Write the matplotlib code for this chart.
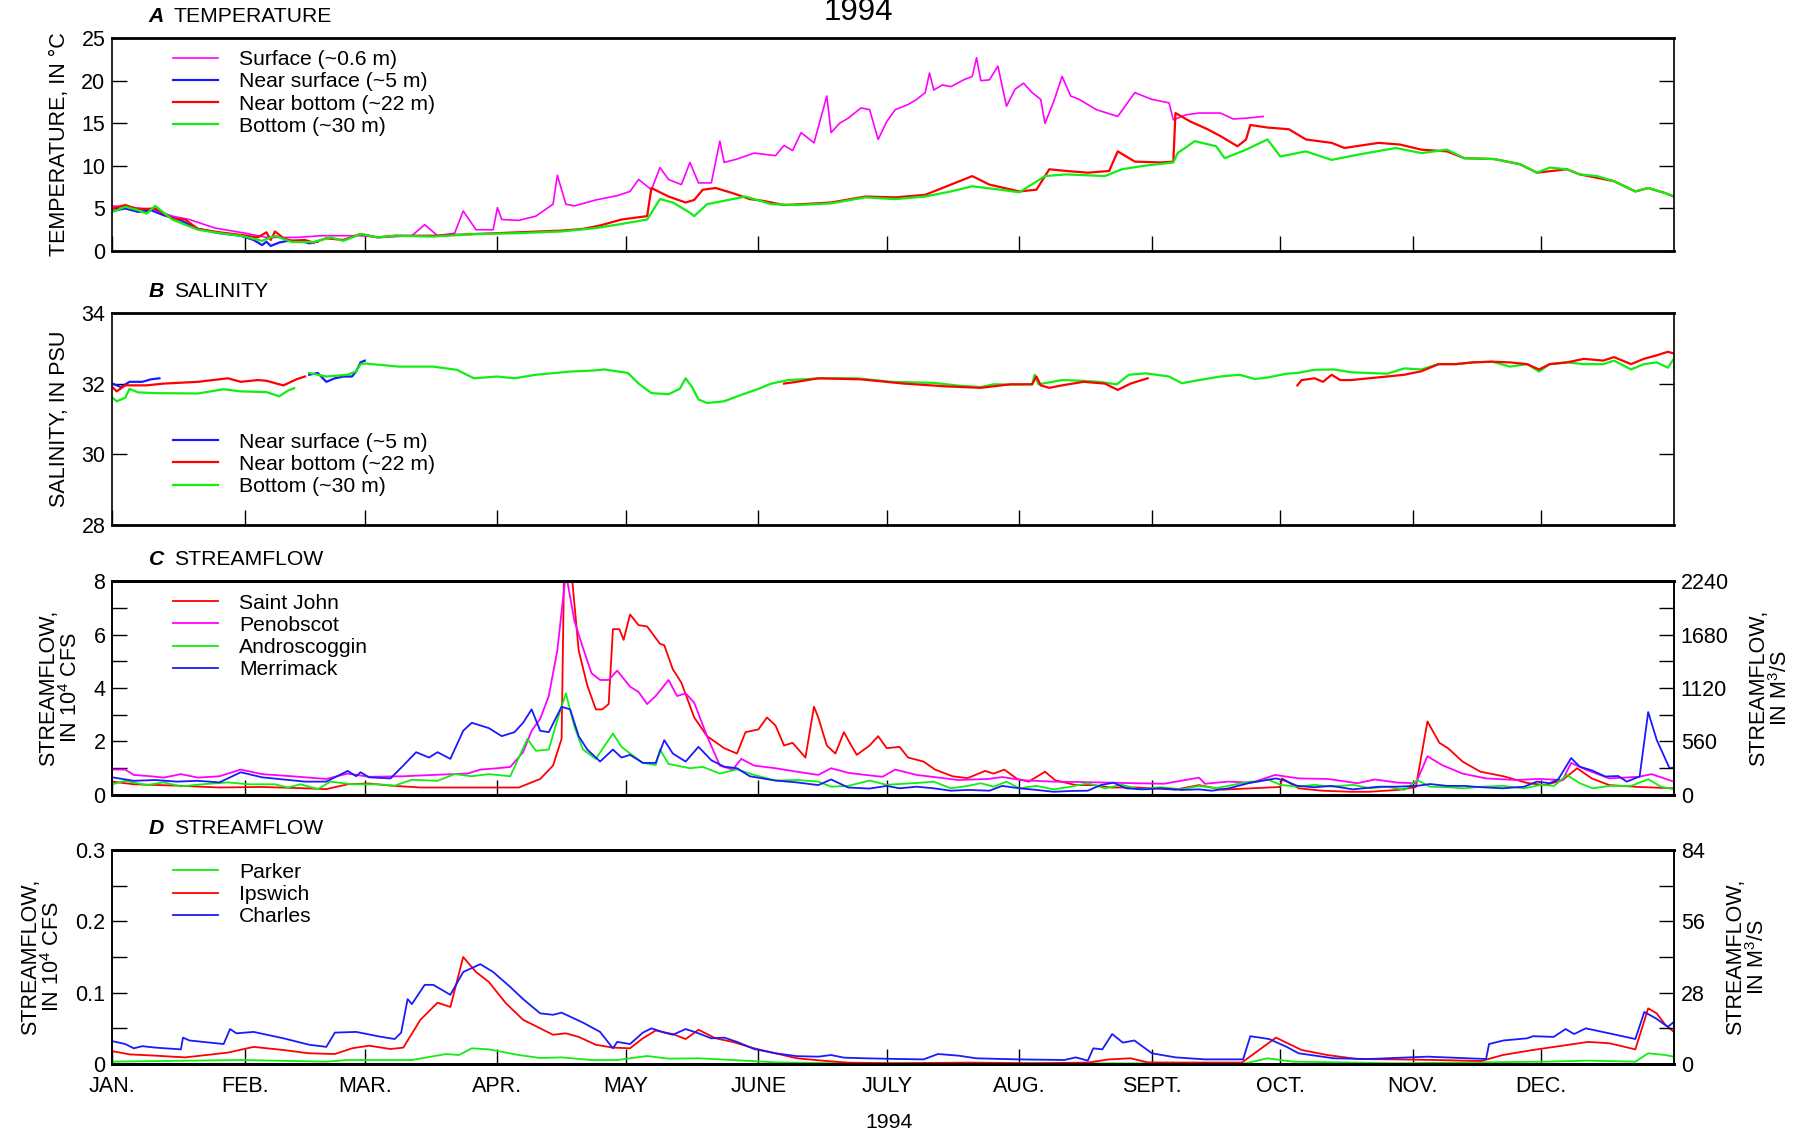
import numpy as np
import matplotlib
matplotlib.use('Agg')
import matplotlib.pyplot as plt
from matplotlib.ticker import MultipleLocator, FixedLocator, FuncFormatter

plt.rcParams['font.family'] = ['Liberation Sans', 'DejaVu Sans']
plt.rcParams['mathtext.fontset'] = 'custom'
plt.rcParams['mathtext.rm'] = 'Liberation Sans'
plt.rcParams['mathtext.it'] = 'Liberation Sans:italic'
plt.rcParams['mathtext.bf'] = 'Liberation Sans:bold'

NAN = np.nan
###############################################################################
# Data (day of year 1994, value)
###############################################################################
MONTH_START = [0, 31, 59, 90, 120, 151, 181, 212, 243, 273, 304, 334]
MONTH_LABELS = ['JAN.', 'FEB.', 'MAR.', 'APR.', 'MAY', 'JUNE', 'JULY',
                'AUG.', 'SEPT.', 'OCT.', 'NOV.', 'DEC.']

# A  temperature, deg C ------------------------------------------------------
temp_surface = [
    (0, 5.3), (5, 5.1), (9.5, 4.9), (14, 4.1), (18, 3.7), (24, 2.7), (31, 2.1),
    (36, 1.6), (43, 1.6), (49, 1.8), (58, 1.8), (63, 1.6), (70, 1.8), (73, 3.1),
    (76, 1.8), (80, 2.1), (82, 4.7), (85, 2.5), (89, 2.5), (90, 5.1), (91, 3.7),
    (95, 3.6), (99, 4.1), (103, 5.5), (104, 8.9), (106, 5.5), (108, 5.3),
    (113, 6.0), (118, 6.5), (121, 7.0), (123, 8.4), (126, 7.2), (128, 9.8),
    (130, 8.4), (133, 7.8), (135, 10.4), (137, 8.0), (140, 8.0), (142, 12.9),
    (143, 10.4), (146, 10.8), (150, 11.5), (155, 11.2), (157, 12.4), (159, 11.8),
    (161, 13.9), (164, 12.7), (167, 18.2), (168, 13.9), (170, 15.0), (172, 15.6),
    (175, 16.8), (177, 16.6), (179, 13.1), (181, 15.2), (183, 16.6), (186, 17.2),
    (188, 17.8), (190, 18.6), (191, 20.9), (192, 18.9), (194, 19.5), (196, 19.3),
    (199, 20.1), (201, 20.5), (202, 22.7), (203, 20.0), (205, 20.1), (207, 21.7),
    (209, 17.0), (211, 19.0), (213, 19.7), (215, 18.6), (217, 17.8), (218, 15.0),
    (220, 17.5), (222, 20.5), (224, 18.2), (226, 17.8), (230, 16.6), (235, 15.8),
    (239, 18.6), (243, 17.8), (247, 17.4), (248, 15.4), (251, 16.0), (254, 16.2),
    (259, 16.2), (262, 15.5), (265, 15.6), (269, 15.8)]
temp_near_surface = [
    (0, 4.7), (3, 5.0), (6, 4.6), (9, 4.8), (12, 4.2), (16, 3.6), (20, 2.6),
    (25, 2.1), (30, 1.8), (33, 1.3), (35, 0.7), (36, 1.1), (37, 0.6), (39, 1.0),
    (41, 1.2), (44, 1.2), (46, 0.9), (48, 1.1)]
temp_near_bottom = [
    (0, 5.0), (3, 5.4), (6, 4.9), (10, 5.0), (14, 3.8), (17, 3.7), (20, 2.6),
    (25, 2.2), (30, 1.9), (34, 1.6), (36, 2.2), (37, 1.3), (38, 2.3), (40, 1.5),
    (42, 1.2), (45, 1.3), (47, 1.0), (50, 1.5), (54, 1.3), (58, 2.0), (62, 1.6),
    (66, 1.8), (75, 1.8), (85, 2.0), (95, 2.2), (105, 2.4), (110, 2.6), (114, 3.0),
    (119, 3.7), (125, 4.1), (126, 7.4), (130, 6.4), (134, 5.7), (136, 6.0),
    (138, 7.2), (141, 7.4), (145, 6.8), (149, 6.1), (152, 5.9), (157, 5.4),
    (161, 5.5), (168, 5.7), (176, 6.4), (183, 6.3), (190, 6.6), (196, 7.8),
    (201, 8.8), (205, 7.8), (212, 7.0), (216, 7.2), (219, 9.6), (223, 9.4),
    (228, 9.2), (233, 9.4), (235, 11.7), (239, 10.5), (245, 10.4), (248, 10.5),
    (248.5, 16.2), (252, 15.2), (256, 14.3), (259, 13.5), (263, 12.3), (265, 13.1),
    (266, 14.8), (270, 14.5), (275, 14.3), (279, 13.1), (285, 12.7), (288, 12.1),
    (296, 12.7), (301, 12.5), (306, 11.9), (312, 11.7), (316, 10.9), (323, 10.8),
    (329, 10.2), (333, 9.2), (340, 9.6), (343, 9.0), (351, 8.2), (356, 7.0),
    (359, 7.4), (363, 6.8), (365, 6.4)]
temp_bottom = [
    (0, 4.6), (3, 5.2), (6, 4.8), (8, 4.4), (10, 5.3), (14, 3.7), (20, 2.5),
    (25, 2.1), (30, 1.8), (35, 1.2), (38, 1.8), (42, 1.05), (47, 1.05), (51, 1.6),
    (54, 1.2), (58, 2.0), (62, 1.6), (66, 1.8), (75, 1.7), (85, 2.0), (95, 2.1),
    (105, 2.3), (113, 2.7), (118, 3.1), (125, 3.7), (128, 6.1), (131, 5.7),
    (135, 4.5), (136, 4.1), (139, 5.5), (143, 5.9), (148, 6.4), (150, 6.1),
    (154, 5.5), (160, 5.4), (168, 5.6), (176, 6.3), (183, 6.1), (190, 6.4),
    (196, 7.0), (201, 7.6), (206, 7.3), (212, 6.9), (218, 8.8), (223, 9.0),
    (232, 8.8), (236, 9.6), (241, 10.0), (248, 10.4), (249, 11.5), (253, 12.9),
    (258, 12.3), (260, 10.9), (265, 11.9), (270, 13.1), (273, 11.1), (279, 11.7),
    (285, 10.7), (291, 11.3), (300, 12.1), (306, 11.5), (312, 11.9), (316, 10.9),
    (323, 10.8), (329, 10.2), (333, 9.2), (336, 9.8), (340, 9.6), (343, 9.0),
    (347, 8.8), (351, 8.2), (356, 7.0), (359, 7.4), (363, 6.8), (365, 6.4)]

# B  salinity, PSU -----------------------------------------------------------
sal_near_surface = [
    (0, 32.0), (2, 31.9), (4, 32.05), (7, 32.05), (9, 32.12), (11, 32.15),
    (12, NAN),
    (46, 32.25), (48, 32.3), (50, 32.05), (52, 32.15), (54, 32.2), (56, 32.2),
    (57, 32.35), (58, 32.6), (59, 32.65)]
sal_near_bottom = [
    (0, 31.9), (1, 31.78), (3, 31.95), (8, 31.95), (12, 32.0), (20, 32.05),
    (27, 32.15), (30, 32.05), (34, 32.1), (36, 32.08), (39, 31.98), (40, 31.95),
    (43, 32.12), (45, 32.2), (46, NAN),
    (157, 32.0), (160, 32.05), (165, 32.15), (175, 32.12), (185, 32.0),
    (195, 31.92), (203, 31.88), (210, 31.98), (215, 31.98), (216, 32.2),
    (217, 31.95), (219, 31.88), (222, 31.95), (227, 32.05), (232, 32.0),
    (235, 31.82), (238, 32.0), (242, 32.15), (243, NAN),
    (277, 31.95), (278, 32.1), (281, 32.15), (283, 32.05), (285, 32.25),
    (287, 32.1), (289.6, 32.1), (293.7, 32.15), (298, 32.2), (302, 32.25),
    (306, 32.35), (310, 32.55), (314, 32.55), (318, 32.6), (322.5, 32.62),
    (326.7, 32.6), (330.7, 32.55), (333.5, 32.4), (336, 32.55), (340, 32.6),
    (344, 32.7), (348.5, 32.65), (351, 32.75), (355, 32.55), (358, 32.7),
    (361, 32.8), (363.6, 32.9), (365, 32.85)]
sal_bottom = [
    (0, 31.6), (1, 31.5), (3, 31.6), (4, 31.85), (6, 31.75), (10, 31.73),
    (20, 31.72), (26, 31.84), (30, 31.78), (36, 31.76), (39, 31.64), (41, 31.8),
    (42.5, 31.87), (44, NAN),
    (46, 32.3), (50, 32.2), (55, 32.25), (57, 32.35), (58, 32.55), (59, 32.57),
    (67, 32.48), (75, 32.48), (80.5, 32.39), (84.5, 32.15), (90, 32.2),
    (94, 32.15), (99, 32.25), (107, 32.34), (112.5, 32.37), (115, 32.4),
    (120.5, 32.3), (123, 32.0), (126, 31.73), (130, 31.7), (132.6, 31.85),
    (134, 32.15), (135.5, 31.9), (137, 31.55), (139, 31.45), (143, 31.5),
    (147, 31.68), (151, 31.85), (154, 32.0), (158, 32.1), (166, 32.15),
    (174, 32.15), (182, 32.05), (192, 32.02), (198, 31.94), (203, 31.9),
    (206, 31.98), (211, 31.97), (215, 31.98), (215.6, 32.25), (216.5, 31.98),
    (222, 32.1), (226.6, 32.08), (230.6, 32.05), (234.8, 31.98), (237.6, 32.25),
    (241.6, 32.29), (247, 32.2), (250, 32.01), (254, 32.1), (259, 32.2),
    (263.5, 32.25), (267, 32.13), (270, 32.17), (274.5, 32.28), (277, 32.3),
    (281, 32.39), (285.5, 32.4), (289.6, 32.32), (293.7, 32.3), (298, 32.28),
    (302, 32.43), (306, 32.4), (310, 32.55), (314, 32.55), (318, 32.6),
    (322.5, 32.62), (326.7, 32.48), (330.7, 32.55), (333.5, 32.34), (336, 32.55),
    (340, 32.6), (344, 32.55), (348.5, 32.55), (351, 32.65), (355, 32.4),
    (358, 32.55), (361, 32.6), (363.6, 32.45), (365, 32.7)]

# C  streamflow, 10^4 cfs ----------------------------------------------------
flow_saint_john = [
    (0, 0.5), (5, 0.4), (15, 0.35), (25, 0.28), (35, 0.3), (45, 0.25), (50, 0.22),
    (55, 0.4), (60, 0.43), (65, 0.35), (72, 0.28), (90, 0.28), (95, 0.28),
    (100, 0.6), (103, 1.1), (105, 2.1), (106, 13.0), (107, 10.0), (107.5, 8.0),
    (109, 5.4), (111, 4.1), (113, 3.2), (114.5, 3.2), (116, 3.4), (117, 6.2),
    (118.5, 6.2), (119.5, 5.8), (121, 6.75), (123, 6.35), (125, 6.3), (128, 5.65),
    (129, 5.6), (131, 4.7), (133, 4.2), (136, 2.9), (139, 2.2), (143, 1.75),
    (146, 1.55), (148, 2.35), (151, 2.45), (153, 2.9), (155, 2.6), (157, 1.85),
    (159, 1.95), (162, 1.4), (164, 3.3), (165, 2.9), (167, 1.85), (169, 1.55),
    (171, 2.35), (172, 2.05), (174, 1.5), (177, 1.85), (179, 2.2), (181, 1.75),
    (184, 1.8), (186, 1.4), (189.6, 1.25), (192.3, 0.95), (196.4, 0.7),
    (199.9, 0.63), (204, 0.9), (206, 0.8), (208.5, 0.95), (211.5, 0.6),
    (214.2, 0.5), (218, 0.87), (220.4, 0.55), (225.2, 0.37), (229.3, 0.37),
    (233.4, 0.28), (238.9, 0.28), (243, 0.25), (248.5, 0.2), (254, 0.37),
    (259.5, 0.2), (266.3, 0.25), (273, 0.3), (273.4, 0.62), (277.3, 0.25),
    (282.8, 0.16), (289.6, 0.12), (293.7, 0.12), (300.6, 0.19), (304.7, 0.3),
    (307.4, 2.75), (310.2, 1.95), (312.2, 1.75), (315.6, 1.25), (319.8, 0.87),
    (325.2, 0.7), (330.7, 0.45), (334.8, 0.37), (338.9, 0.55), (342.4, 1.0),
    (345.8, 0.62), (349.9, 0.37), (356.8, 0.3), (365, 0.25)]
flow_penobscot = [
    (0, 0.95), (3, 0.95), (5, 0.75), (9, 0.7), (12, 0.65), (16, 0.78), (20, 0.65),
    (25, 0.7), (30, 0.95), (35, 0.78), (42, 0.7), (50, 0.6), (55, 0.8), (60, 0.68),
    (68, 0.7), (75, 0.75), (83, 0.8), (86, 0.95), (90, 1.0), (93, 1.05), (96, 1.6),
    (98, 2.4), (100, 2.85), (102, 3.7), (104, 5.4), (106, 8.3), (108, 6.5),
    (110, 5.5), (112, 4.55), (114, 4.3), (116, 4.3), (118, 4.65), (121, 4.05),
    (123, 3.85), (125, 3.4), (127, 3.7), (130, 4.3), (132, 3.7), (134, 3.8),
    (136, 3.45), (139, 2.2), (142, 1.1), (145, 0.95), (147, 1.35), (150, 1.1),
    (155, 1.0), (160, 0.87), (165, 0.75), (168, 1.0), (172, 0.83), (176, 0.75),
    (180, 0.68), (183, 0.95), (188, 0.75), (197.8, 0.56), (204.7, 0.6),
    (208, 0.67), (212.9, 0.55), (219.7, 0.5), (228, 0.48), (238.9, 0.44),
    (245.8, 0.42), (254, 0.65), (255.4, 0.42), (260.8, 0.5), (266.3, 0.46),
    (271.8, 0.75), (277.3, 0.62), (284.1, 0.6), (291, 0.44), (295.1, 0.58),
    (300.6, 0.46), (304.7, 0.44), (307.4, 1.45), (310.8, 1.12), (315.6, 0.8),
    (321.1, 0.62), (328, 0.56), (333.5, 0.6), (339, 0.56), (341, 1.2),
    (344.4, 0.95), (349.9, 0.62), (356.8, 0.68), (359.8, 0.78), (365, 0.5)]
flow_androscoggin = [
    (0, 0.4), (3, 0.53), (8, 0.37), (12, 0.47), (16, 0.32), (21, 0.4), (27, 0.47),
    (32, 0.4), (38, 0.4), (41, 0.28), (44, 0.4), (48, 0.22), (51, 0.5), (56, 0.4),
    (62, 0.4), (66, 0.35), (70, 0.57), (76, 0.53), (80, 0.78), (84, 0.7),
    (88, 0.78), (93, 0.7), (97, 2.1), (99, 1.65), (102, 1.7), (104, 2.8),
    (106, 3.8), (108, 2.55), (110, 1.7), (113, 1.35), (117, 2.3), (119, 1.8),
    (121, 1.55), (124, 1.2), (127, 1.12), (128, 1.7), (130, 1.16), (135, 1.0),
    (138, 1.05), (142, 0.8), (146, 0.96), (150, 0.75), (155, 0.54), (160, 0.56),
    (165, 0.5), (168, 0.31), (172, 0.34), (177, 0.54), (181, 0.38), (184, 0.41),
    (189, 0.46), (192, 0.5), (196, 0.25), (200, 0.34), (203, 0.44), (206, 0.31),
    (209, 0.5), (212, 0.25), (216, 0.34), (220, 0.21), (224, 0.31), (228, 0.44),
    (232, 0.25), (236, 0.38), (240, 0.21), (245, 0.29), (250, 0.21), (254, 0.34),
    (258, 0.25), (262, 0.38), (266, 0.5), (268, 0.5), (270, 0.59), (273, 0.38),
    (277, 0.31), (281, 0.38), (285, 0.31), (290, 0.38), (294, 0.25), (298, 0.31),
    (302, 0.19), (305, 0.56), (308, 0.31), (312, 0.29), (316, 0.25), (320, 0.31),
    (325, 0.34), (330, 0.25), (334, 0.38), (337, 0.34), (340, 0.75), (343, 0.44),
    (346, 0.25), (350, 0.34), (355, 0.34), (359, 0.59), (362, 0.31), (365, 0.21)]
flow_merrimack = [
    (0, 0.66), (5, 0.53), (10, 0.56), (15, 0.5), (20, 0.53), (25, 0.47), (30, 0.85),
    (35, 0.66), (40, 0.58), (45, 0.5), (50, 0.5), (55, 0.9), (57, 0.7), (58, 0.85),
    (60, 0.66), (65, 0.62), (68, 1.1), (71, 1.6), (74, 1.4), (76, 1.6), (79, 1.35),
    (82, 2.4), (84, 2.7), (88, 2.5), (91, 2.2), (94, 2.35), (96, 2.7), (98, 3.2),
    (100, 2.4), (102, 2.35), (105, 3.3), (107, 3.2), (109, 2.2), (111, 1.7),
    (114, 1.25), (117, 1.7), (119, 1.4), (121, 1.5), (124, 1.2), (127, 1.2),
    (129, 2.05), (131, 1.55), (134, 1.25), (137, 1.8), (140, 1.3), (143, 1.06),
    (146, 1.0), (149, 0.7), (155, 0.54), (160, 0.47), (165, 0.37), (168, 0.58),
    (172, 0.28), (177, 0.24), (181, 0.34), (184, 0.25), (188, 0.31), (192, 0.25),
    (196, 0.16), (200, 0.19), (205, 0.16), (208, 0.34), (212, 0.25), (216, 0.19),
    (220, 0.12), (224, 0.15), (228, 0.16), (231, 0.37), (234, 0.46), (237, 0.25),
    (241, 0.21), (245, 0.25), (250, 0.19), (254, 0.21), (257, 0.16), (261, 0.25),
    (266, 0.46), (269, 0.54), (272, 0.62), (274, 0.54), (277, 0.34), (281, 0.29),
    (285, 0.34), (290, 0.21), (296, 0.31), (300, 0.31), (305, 0.34), (308, 0.41),
    (312, 0.34), (316, 0.34), (320, 0.29), (325, 0.25), (330, 0.31), (333, 0.5),
    (336, 0.44), (338, 0.59), (341, 1.38), (343, 1.06), (346, 0.91), (349, 0.69),
    (352, 0.71), (354, 0.5), (357, 0.69), (359, 3.1), (361, 2.06), (364, 1.0),
    (365, 1.03)]

# D  streamflow, 10^4 cfs ----------------------------------------------------
flow_parker = [
    (0, 0.0033), (30, 0.0056), (50, 0.0033), (55, 0.0056), (70, 0.0056),
    (78, 0.014), (81, 0.0126), (84, 0.022), (88, 0.0205), (95, 0.0126),
    (100, 0.0084), (105, 0.0093), (112, 0.0056), (118, 0.0056), (125, 0.0112),
    (130, 0.0075), (137, 0.008), (145, 0.0056), (155, 0.0023), (170, 0.001),
    (265, 0.001), (270, 0.008), (276, 0.0033), (300, 0.001), (335, 0.0033),
    (345, 0.0047), (356, 0.0033), (359, 0.015), (363, 0.0126), (365, 0.0103)]
flow_ipswich = [
    (0, 0.018), (4, 0.0135), (10, 0.0117), (17, 0.0093), (22, 0.0126), (27, 0.016),
    (33, 0.024), (40, 0.0196), (46, 0.015), (52, 0.014), (56, 0.022), (60, 0.0257),
    (65, 0.021), (68, 0.023), (72, 0.062), (76, 0.086), (79, 0.08), (82, 0.15),
    (85, 0.129), (88, 0.115), (92, 0.085), (96, 0.062), (100, 0.05), (103, 0.041),
    (106, 0.043), (109, 0.038), (113, 0.027), (117, 0.023), (121, 0.022),
    (124, 0.036), (127, 0.047), (131, 0.042), (134, 0.035), (137, 0.048),
    (141, 0.036), (145, 0.031), (150, 0.022), (155, 0.015), (160, 0.008),
    (166, 0.0047), (172, 0.0019), (183, 0.001), (200, 0.002), (215, 0.001),
    (228, 0.002), (233, 0.0065), (238, 0.008), (242, 0.0023), (250, 0.002),
    (264, 0.002), (272, 0.037), (278, 0.0196), (284, 0.0126), (291, 0.007),
    (300, 0.0065), (310, 0.0056), (320, 0.0042), (325, 0.0126), (332, 0.0196),
    (337, 0.024), (345, 0.031), (350, 0.029), (356, 0.0205), (359, 0.078),
    (361, 0.071), (363, 0.055), (365, 0.045)]
flow_charles = [
    (0, 0.032), (3, 0.028), (5, 0.022), (7, 0.025), (10, 0.023), (16, 0.0205),
    (16.5, 0.037), (18, 0.033), (26, 0.028), (27.5, 0.049), (29, 0.043),
    (33, 0.045), (40, 0.036), (46, 0.027), (50, 0.024), (52, 0.044), (57, 0.045),
    (62, 0.039), (66, 0.035), (67.5, 0.044), (69, 0.091), (70, 0.084), (73, 0.111),
    (75, 0.111), (79, 0.097), (82, 0.129), (86, 0.14), (89, 0.129), (93, 0.108),
    (96, 0.091), (100, 0.071), (103, 0.069), (105, 0.072), (110, 0.058),
    (114, 0.045), (117, 0.022), (118, 0.031), (121, 0.028), (124, 0.044),
    (126, 0.05), (129, 0.044), (131, 0.041), (134, 0.049), (137, 0.043),
    (140, 0.036), (143, 0.037), (146, 0.031), (150, 0.021), (155, 0.015),
    (160, 0.011), (165, 0.0103), (168, 0.0126), (171, 0.0089), (176, 0.008),
    (184, 0.007), (189.6, 0.0065), (193, 0.014), (197.8, 0.0117), (201.9, 0.008),
    (211.5, 0.0065), (222.5, 0.0056), (225.2, 0.0093), (228, 0.0047),
    (229.3, 0.022), (231.4, 0.0205), (233.7, 0.042), (236.2, 0.03), (238.9, 0.033),
    (243, 0.015), (248.5, 0.0093), (255.4, 0.0065), (264.3, 0.0065), (266, 0.039),
    (270.4, 0.035), (274.5, 0.024), (277.3, 0.015), (285.5, 0.008), (293.7, 0.007),
    (307.4, 0.0103), (321.1, 0.007), (321.8, 0.028), (325.2, 0.033),
    (330.7, 0.036), (332.1, 0.039), (336.9, 0.038), (339.7, 0.049), (341.7, 0.042),
    (344.4, 0.05), (349.9, 0.043), (356, 0.035), (358.1, 0.073), (360.8, 0.064),
    (363.6, 0.052), (365, 0.059)]

MAG, BLU, RED, GRN = '#FF00FF', '#1a1aff', '#FF0000', '#11EE11'
FS = 15.5      # tick labels
FS_TXT = 15.2  # legends, panel titles
FS_LAB = 15.5  # axis labels
TICK_LEN = 10.5


def xy(pairs):
    a = np.array(pairs, dtype=float)
    return a[:, 0], a[:, 1]


def style(ax, ylim, major, minor=None, right=True, xlabels=False):
    ax.set_xlim(0, 365)
    ax.set_ylim(*ylim)
    ax.xaxis.set_major_locator(FixedLocator(MONTH_START))
    ax.tick_params(axis='x', direction='in', length=TICK_LEN, width=1,
                   top=False, bottom=True, labelbottom=xlabels,
                   labelsize=FS, pad=8.5)
    if xlabels:
        ax.set_xticklabels(MONTH_LABELS)
    ax.yaxis.set_major_locator(MultipleLocator(major))
    if minor:
        ax.yaxis.set_minor_locator(MultipleLocator(minor))
    ax.yaxis.set_major_formatter(FuncFormatter(lambda v, p: '{:g}'.format(round(v, 6))))
    ax.tick_params(axis='y', which='both', direction='in', length=TICK_LEN,
                   width=1, left=True, right=right, labelsize=FS, pad=5)
    for s in ('top', 'bottom'):
        ax.spines[s].set_linewidth(2.0)
    for s in ('left', 'right'):
        ax.spines[s].set_linewidth(1.2)


def panel_label(ax, letter, text):
    ax.annotate(letter, xy=(0.0232, 1), xycoords='axes fraction',
                xytext=(0, 15.5), textcoords='offset points', va='center',
                fontsize=FS_TXT, fontweight='bold', style='italic')
    ax.annotate(text, xy=(0.0394, 1), xycoords='axes fraction',
                xytext=(0, 15.5), textcoords='offset points', va='center',
                fontsize=FS_TXT)


def legend(ax, yc, handles=None, labels=None):
    if handles is None:
        handles, labels = ax.get_legend_handles_labels()
    ax.legend(handles, labels, loc='center left', bbox_to_anchor=(0.039, yc),
              frameon=False, fontsize=FS_TXT, handlelength=2.1,
              handletextpad=1.0, labelspacing=0.15, borderpad=0,
              borderaxespad=0)


fig = plt.figure(figsize=(18.19, 11.37), dpi=100)
L, W = 0.0618, 0.8584
ax_a = fig.add_axes([L, 0.7792, W, 0.1873])
ax_b = fig.add_axes([L, 0.5383, W, 0.1865])
ax_c = fig.add_axes([L, 0.3008, W, 0.1882])
ax_d = fig.add_axes([L, 0.0642, W, 0.1882])
ax_c2 = ax_c.twinx()
ax_d2 = ax_d.twinx()

###############################################################################
# A  Temperature
###############################################################################
lw = 1.6
ax_a.plot(*xy(temp_surface), color=MAG, lw=1.2, label='Surface (~0.6 m)')
ax_a.plot(*xy(temp_near_surface), color=BLU, lw=lw, label='Near surface (~5 m)')
ax_a.plot(*xy(temp_near_bottom), color=RED, lw=lw, label='Near bottom (~22 m)')
ax_a.plot(*xy(temp_bottom), color=GRN, lw=lw, label='Bottom (~30 m)')
style(ax_a, (0, 25), 5)
legend(ax_a, 0.742)
panel_label(ax_a, 'A', 'TEMPERATURE')
ax_a.set_ylabel('TEMPERATURE, IN \u00b0C', fontsize=FS_LAB)
ax_a.yaxis.set_label_coords(-0.027, 0.5)

###############################################################################
# B  Salinity
###############################################################################
ax_b.plot(*xy(sal_near_surface), color=BLU, lw=lw, label='Near surface (~5 m)')
ax_b.plot(*xy(sal_bottom), color=GRN, lw=lw, label='Bottom (~30 m)')
ax_b.plot(*xy(sal_near_bottom), color=RED, lw=lw, label='Near bottom (~22 m)')
style(ax_b, (28, 34), 2)
h, lab = ax_b.get_legend_handles_labels()
order = [0, 2, 1]
legend(ax_b, 0.286, [h[i] for i in order], [lab[i] for i in order])
panel_label(ax_b, 'B', 'SALINITY')
ax_b.set_ylabel('SALINITY, IN PSU', fontsize=FS_LAB)
ax_b.yaxis.set_label_coords(-0.027, 0.5)

###############################################################################
# C  Streamflow (large rivers)
###############################################################################
lw = 1.3
ax_c.plot(*xy(flow_saint_john), color=RED, lw=lw, label='Saint John')
ax_c.plot(*xy(flow_penobscot), color=MAG, lw=lw, label='Penobscot')
ax_c.plot(*xy(flow_androscoggin), color=GRN, lw=lw, label='Androscoggin')
ax_c.plot(*xy(flow_merrimack), color=BLU, lw=lw, label='Merrimack')
style(ax_c, (0, 8), 2, 1, right=False)
style(ax_c2, (0, 2240), 560, 280, right=True)
ax_c2.tick_params(axis='y', which='both', left=False)
legend(ax_c, 0.741)
panel_label(ax_c, 'C', 'STREAMFLOW')
ax_c.set_ylabel('STREAMFLOW,\nIN 10$^4$ CFS', fontsize=FS_LAB, linespacing=1.0)
ax_c.yaxis.set_label_coords(-0.0195, 0.5)
ax_c2.set_ylabel('STREAMFLOW,\nIN M$^3$/S', fontsize=FS_LAB, linespacing=1.0)
ax_c2.yaxis.set_label_coords(1.0474, 0.5)

###############################################################################
# D  Streamflow (small rivers)
###############################################################################
ax_d.plot(*xy(flow_parker), color=GRN, lw=lw, label='Parker')
ax_d.plot(*xy(flow_ipswich), color=RED, lw=lw, label='Ipswich')
ax_d.plot(*xy(flow_charles), color=BLU, lw=lw, label='Charles')
style(ax_d, (0, 0.3), 0.1, 0.05, right=False, xlabels=True)
style(ax_d2, (0, 84), 28, 14, right=True)
ax_d2.tick_params(axis='y', which='both', left=False)
legend(ax_d, 0.792)
panel_label(ax_d, 'D', 'STREAMFLOW')
ax_d.set_ylabel('STREAMFLOW,\nIN 10$^4$ CFS', fontsize=FS_LAB, linespacing=1.0)
ax_d.yaxis.set_label_coords(-0.031, 0.5)
ax_d2.set_ylabel('STREAMFLOW,\nIN M$^3$/S', fontsize=FS_LAB, linespacing=1.0)
ax_d2.yaxis.set_label_coords(1.0327, 0.5)

fig.text(0.472, 0.9894, '1994', ha='center', va='center', fontsize=22.5)
fig.text(0.489, 1 - 1123 / 1137, '1994', ha='center', va='center', fontsize=15.3)

fig.savefig('out.png', dpi=100)
plt.close('all')
